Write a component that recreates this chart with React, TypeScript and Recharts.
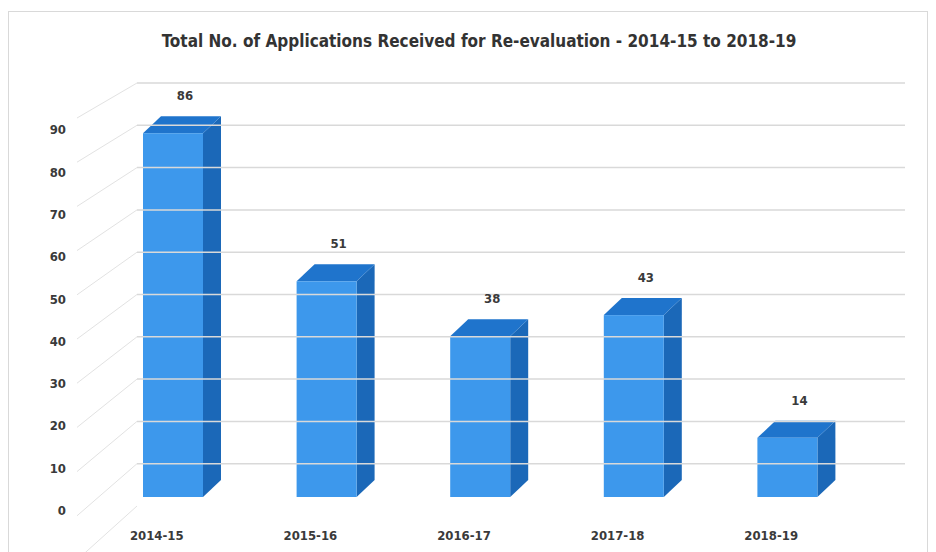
import React from 'react';
import { BarChart, Bar, XAxis, YAxis, ReferenceLine, LabelList } from 'recharts';

const categories = ['2014-15', '2015-16', '2016-17', '2017-18', '2018-19'];
const applications = [86, 51, 38, 43, 14];
const yTicks = [0, 10, 20, 30, 40, 50, 60, 70, 80, 90, 100];
const gridValues = [10, 20, 30, 40, 50, 60, 70, 80, 90, 100];
const title = 'Total No. of Applications Received for Re-evaluation - 2014-15 to 2018-19';

const data = categories.map((c, i) => ({ year: c, value: applications[i] }));

const FONT = '"Liberation Sans Narrow", "DejaVu Sans Condensed", "Liberation Sans", sans-serif';
const TEXT = '#3a3a3a';
const GRID = '#d9d9d9';

// 3D offsets (depth of bars / side wall)
const SHIFT_X = -41;
const SHIFT_Y = -9;
const DEPTH_X = 18;
const DEPTH_Y = -17;

const Bar3D = (props: any) => {
  const { x, y, width, height } = props;
  if (x == null || y == null) return null;
  const fx = x + SHIFT_X;
  const fy = y + SHIFT_Y;
  const w = width;
  const bottom = y + height + SHIFT_Y;
  const top = `${fx},${fy} ${fx + DEPTH_X},${fy + DEPTH_Y} ${fx + w + DEPTH_X},${fy + DEPTH_Y} ${fx + w},${fy}`;
  const side = `${fx + w},${fy} ${fx + w + DEPTH_X},${fy + DEPTH_Y} ${fx + w + DEPTH_X},${bottom + DEPTH_Y} ${fx + w},${bottom}`;
  return (
    <g>
      <polygon points={side} fill="#1b68b8" />
      <polygon points={top} fill="#1f74cc" />
      <rect x={fx} y={fy} width={w} height={bottom - fy} fill="#3d98ec" />
    </g>
  );
};

const ValueLabel = (props: any) => {
  const { x, y, width, value } = props;
  return (
    <text
      x={x + SHIFT_X + width / 2 + 12}
      y={y + SHIFT_Y - 33}
      textAnchor="middle"
      fontFamily={FONT}
      fontWeight="bold"
      fontSize={13}
      fill={TEXT}
    >
      {value}
    </text>
  );
};

const YTick = (props: any) => {
  const { x, y, payload } = props;
  const v = payload.value as number;
  const k = 35 + (100 - v) * 0.19;
  return (
    <g>
      <line x1={x - 52} y1={y + k} x2={x + 8} y2={y} stroke="#e2e2e2" strokeWidth={1} />
      {v < 100 && (
        <text
          x={x - 63}
          y={y + 9}
          textAnchor="end"
          fontFamily={FONT}
          fontWeight="bold"
          fontSize={13}
          fill={TEXT}
        >
          {v}
        </text>
      )}
    </g>
  );
};

const XTick = (props: any) => {
  const { x, y, payload } = props;
  return (
    <text
      x={x - 57}
      y={y + 26}
      textAnchor="middle"
      fontFamily={FONT}
      fontWeight="bold"
      fontSize={13}
      fill={TEXT}
    >
      {payload.value}
    </text>
  );
};

export default function App() {
  return (
    <div style={{ position: 'absolute', left: 0, top: 0, width: 936, height: 552, background: '#fff', overflow: 'hidden' }}>
      <div
        style={{
          position: 'absolute',
          left: 8,
          top: 11,
          width: 920,
          height: 560,
          border: '1px solid #d9d9d9',
          boxSizing: 'border-box',
        }}
      />
      <div
        style={{
          position: 'absolute',
          left: 0,
          top: 31,
          width: 958,
          textAlign: 'center',
          fontFamily: FONT,
          fontWeight: 'bold',
          fontSize: 17,
          color: '#333',
          whiteSpace: 'nowrap',
        }}
      >
        {title}
      </div>
      <div style={{ position: 'absolute', left: 0, top: 0 }}>
        <BarChart
          width={936}
          height={552}
          data={data}
          margin={{ top: 83, right: 31, bottom: 0, left: 0 }}
          barSize={60}
        >
          <XAxis
            dataKey="year"
            height={46}
            axisLine={false}
            tickLine={false}
            tick={<XTick />}
            interval={0}
          />
          <YAxis
            width={137}
            domain={[0, 100]}
            ticks={yTicks}
            interval={0}
            axisLine={false}
            tickLine={false}
            tick={<YTick />}
          />
          {gridValues.map((v) => (
            <ReferenceLine key={v} y={v} stroke={GRID} strokeWidth={1.5} ifOverflow="extendDomain" />
          ))}
          <Bar dataKey="value" shape={<Bar3D />} isAnimationActive={false}>
            <LabelList dataKey="value" content={<ValueLabel />} />
          </Bar>
        </BarChart>
      </div>
    </div>
  );
}
